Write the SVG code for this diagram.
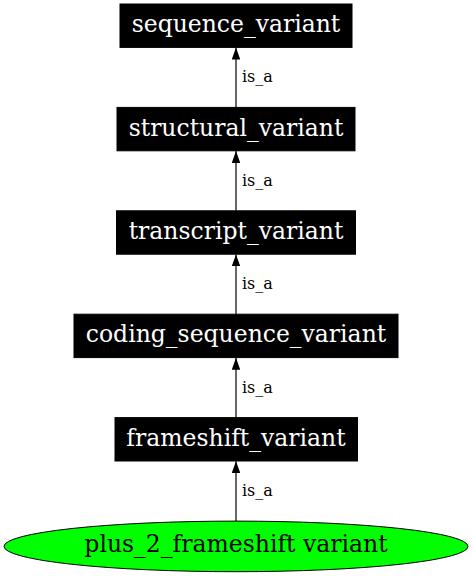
<svg xmlns="http://www.w3.org/2000/svg" width="473" height="576" viewBox="0 0 473 576">
<style>
.box{fill:#000;stroke:#000;stroke-width:1}
.nt{font-family:"DejaVu Serif","Liberation Serif",serif;font-size:23.5px;fill:#fff;text-anchor:middle}
.et{font-family:"DejaVu Serif","Liberation Serif",serif;font-size:16px;fill:#000}
.edge{stroke:#000;stroke-width:1.2;fill:none}
.leaf{fill:#00ff00;stroke:#000;stroke-width:1}
.lt{font-family:"DejaVu Serif","Liberation Serif",serif;font-size:23.5px;fill:#000;text-anchor:middle}
</style>
<defs>
<marker id="arr" markerUnits="userSpaceOnUse" viewBox="0 0 12 8.6" refX="12" refY="4.3" markerWidth="12" markerHeight="8.6" orient="auto">
<path d="M0,0 L12,4.3 L0,8.6 z" fill="#000"/>
</marker>
</defs>
<rect width="473" height="576" fill="#fff"/>
<g id="connectors">
<path class="edge" d="M236,107.4 L236,47.6" marker-end="url(#arr)"/>
<text class="et" x="242" y="82.3">is_a</text>
<path class="edge" d="M236,210.8 L236,151" marker-end="url(#arr)"/>
<text class="et" x="242" y="185.7">is_a</text>
<path class="edge" d="M236,314.2 L236,254.4" marker-end="url(#arr)"/>
<text class="et" x="242" y="289.1">is_a</text>
<path class="edge" d="M236,417.6 L236,357.8" marker-end="url(#arr)"/>
<text class="et" x="242" y="392.5">is_a</text>
<path class="edge" d="M236,521.1 L236,461.2" marker-end="url(#arr)"/>
<text class="et" x="242" y="496">is_a</text>
</g>
<g id="sequence_variant">
<rect class="box" x="120" y="4" width="232" height="43.4"/>
<text class="nt" x="236" y="32.2">sequence_variant</text>
</g>
<g id="structural_variant">
<rect class="box" x="117" y="107.4" width="238" height="43.4"/>
<text class="nt" x="236" y="135.6">structural_variant</text>
</g>
<g id="transcript_variant">
<rect class="box" x="116.5" y="210.8" width="239" height="43.4"/>
<text class="nt" x="236" y="239">transcript_variant</text>
</g>
<g id="coding_sequence_variant">
<rect class="box" x="74" y="314.2" width="324" height="43.4"/>
<text class="nt" x="236" y="342.4">coding_sequence_variant</text>
</g>
<g id="frameshift_variant">
<rect class="box" x="115" y="417.6" width="242.5" height="43.4"/>
<text class="nt" x="236" y="445.8">frameshift_variant</text>
</g>
<g id="plus_2_frameshift_variant">
<ellipse class="leaf" cx="236" cy="546.4" rx="232" ry="25.3"/>
<text class="lt" x="236" y="552.2">plus_2_frameshift variant</text>
</g>
</svg>
